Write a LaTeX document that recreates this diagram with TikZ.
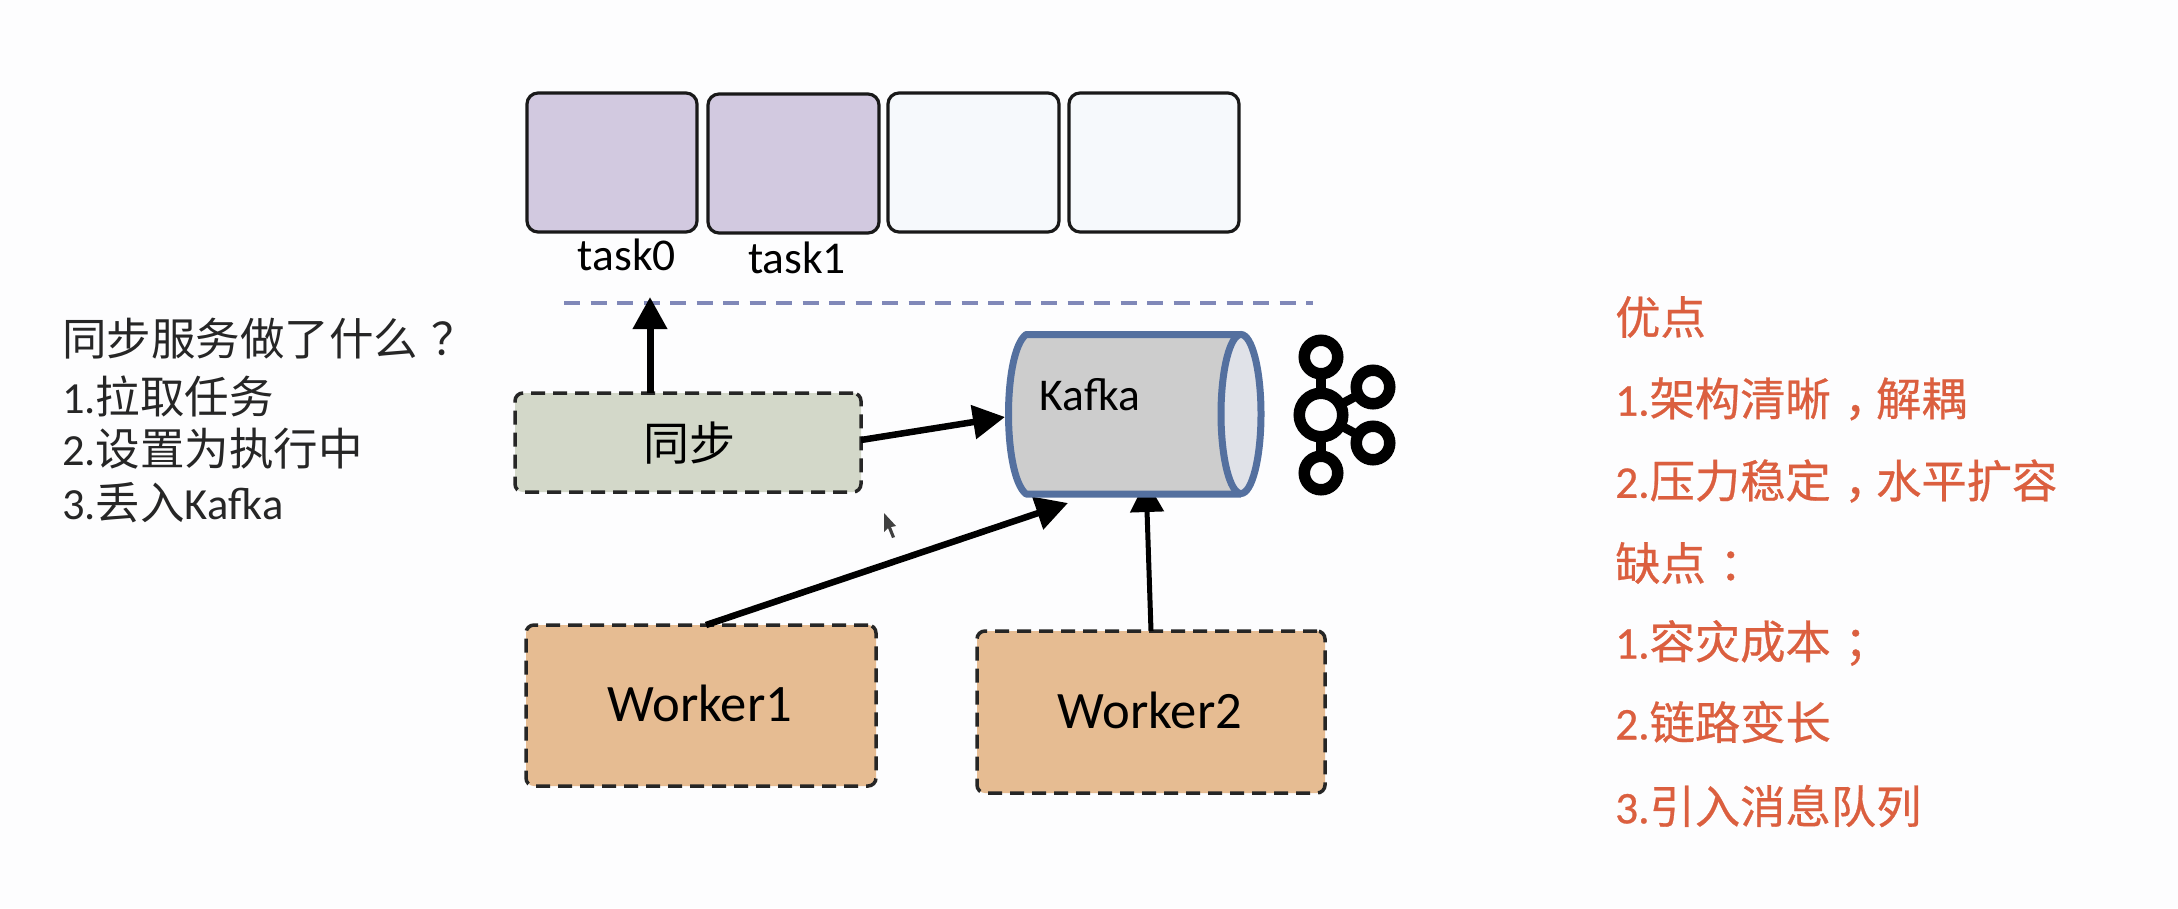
\documentclass[tikz,border=0pt]{standalone}
\usepackage{fontspec}
\setmainfont{Carlito}
\newfontfamily\cjk{Noto Sans CJK SC}
\newfontfamily\cjkb[FakeBold=0.6]{Noto Sans CJK SC}
\newfontfamily\latb[FakeBold=0.6]{Carlito}
\newcommand{\cpn}[1]{\kern.3em#1\kern-.3em}
\usetikzlibrary{arrows.meta}
\definecolor{bgc}{HTML}{FDFDFE}
\definecolor{lav}{HTML}{D2C9E0}
\definecolor{pale}{HTML}{F6F9FC}
\definecolor{sage}{HTML}{D3D8C9}
\definecolor{tan}{HTML}{E6BC92}
\definecolor{cylb}{HTML}{54709F}
\definecolor{cylf}{HTML}{CDCDCD}
\definecolor{cyle}{HTML}{E0E2E8}
\definecolor{dashc}{HTML}{8088B8}
\definecolor{redt}{HTML}{DB5F3F}
\tikzset{
 slot/.style={draw=black!90,line width=3.2pt,rounded corners=11pt},
 dbox/.style={draw=black!85,line width=3.5pt,dash pattern=on 14pt off 8pt,rounded corners=8pt},
 conn/.style={draw=black,line width=6.5pt,-{Triangle[length=32pt,width=33pt]}},
 lbl/.style={inner sep=0pt,anchor=center,text=black},
 leftt/.style={inner sep=0pt,anchor=west,text=black!85,font=\fontsize{44.5}{50}\selectfont},
 rightt/.style={inner sep=0pt,anchor=west,text=redt,font=\fontsize{45.3}{50}\selectfont\latb},
 ring/.style={draw=black,line width=11.5pt,fill=bgc,circle,inner sep=0pt}
}
\begin{document}
\begin{tikzpicture}[x=1pt,y=-1pt]
\useasboundingbox (0,0) rectangle (2178,908);
\fill[bgc] (0,0) rectangle (2178,908);
% slots
\draw[slot,fill=lav] (527,93) rectangle (697,232);
\draw[slot,fill=lav] (708,94) rectangle (879,233);
\draw[slot,fill=pale] (888,93) rectangle (1059,232);
\draw[slot,fill=pale] (1069,93) rectangle (1239,232);
\node[lbl,font=\fontsize{45.5}{50}\selectfont] (t0) at (627,255) {task0};
\node[lbl,font=\fontsize{45.5}{50}\selectfont] (t1) at (797,258) {task1};
% separator
\coordinate (da) at (564,303);
\coordinate (db) at (1313,303);
\draw[dashc,line width=3.5pt,dash pattern=on 16pt off 10.5pt] (da) -- (db);
% boxes
\node[dbox,fill=sage,minimum width=346pt,minimum height=99pt,inner sep=0pt] (sync) at (688,442.5) {};
\node[lbl,font=\fontsize{46}{50}\selectfont\cjk] at (689,443) {同步};
\node[dbox,fill=tan,minimum width=350pt,minimum height=161pt,inner sep=0pt] (w1) at (701,705.5) {};
\node[lbl,font=\fontsize{52.6}{56}\selectfont] at (700,703) {Worker1};
\node[dbox,fill=tan,minimum width=348pt,minimum height=162pt,inner sep=0pt] (w2) at (1151,712) {};
\node[lbl,font=\fontsize{52.6}{56}\selectfont] at (1150,710) {Worker2};
% anchors for connectors
\coordinate (taskin) at (650,297);
\coordinate (syncout) at (650,393);
\coordinate (s1) at (861,440);
\coordinate (k1) at (1005,417);
\coordinate (w1o) at (706,625);
\coordinate (k2) at (1068,503);
\coordinate (w2o) at (1151,631);
\coordinate (k3) at (1146,480);
\draw[conn,line width=7pt] (syncout) -- (taskin);
\draw[conn] (s1) -- (k1);
\draw[conn] (w1o) -- (k2);
\draw[conn,line width=5pt] (w2o) -- (k3);
% cylinder
\draw[cylb,line width=7pt,fill=cylf,line join=round] (1241,334.5) -- (1026,334.5)
  .. controls (1014,344) and (1008.5,380) .. (1008.5,414)
  .. controls (1008.5,448) and (1014,484) .. (1026,494) -- (1241,494);
\draw[cylb,line width=7pt,fill=cyle] (1241,414) ellipse [x radius=20,y radius=79.5];
\node[lbl,font=\fontsize{45.5}{50}\selectfont] (kaf) at (1090,395) {Kafka};
% kafka logo
\draw[black,line width=10pt] (1321,357) -- (1321,473);
\draw[black,line width=9pt] (1321,415) -- (1373,387);
\draw[black,line width=9pt] (1321,415) -- (1373,443);
\node[ring,minimum size=33.5pt] (l1) at (1321,357) {};
\node[ring,minimum size=33.5pt] (l2) at (1373,387) {};
\node[ring,minimum size=33.5pt] (l3) at (1373,443) {};
\node[ring,minimum size=33.5pt] (l4) at (1321,473) {};
\node[ring,minimum size=43.5pt] (l0) at (1321,415) {};
% cursor
\fill[black!75] (884,513) -- (884,532) -- (888,528) -- (892,538) -- (895,537) -- (891,527) -- (896,526) -- cycle;
% left notes
\node[leftt] (n1) at (62,339) {{\cjk 同步服务做了什么\cpn{？}}};
\node[leftt] (n2) at (62,396) {1.{\cjk 拉取任务}};
\node[leftt] (n3) at (62,449) {2.{\cjk 设置为执行中}};
\node[leftt] (n4) at (62,503) {3.{\cjk 丢入}Kafka};
% right notes
\node[rightt] (r1) at (1615,317) {{\cjkb 优点}};
\node[rightt] (r2) at (1615,399) {1.{\cjkb 架构清晰\cpn{，}解耦}};
\node[rightt] (r3) at (1615,481) {2.{\cjkb 压力稳定\cpn{，}水平扩容}};
\node[rightt] (r4) at (1615,563) {{\cjkb 缺点\cpn{：}}};
\node[rightt] (r5) at (1615,643) {1.{\cjkb 容灾成本\cpn{；}}};
\node[rightt] (r6) at (1615,722) {2.{\cjkb 链路变长}};
\node[rightt] (r7) at (1615,806) {3.{\cjkb 引入消息队列}};
\end{tikzpicture}
\end{document}
